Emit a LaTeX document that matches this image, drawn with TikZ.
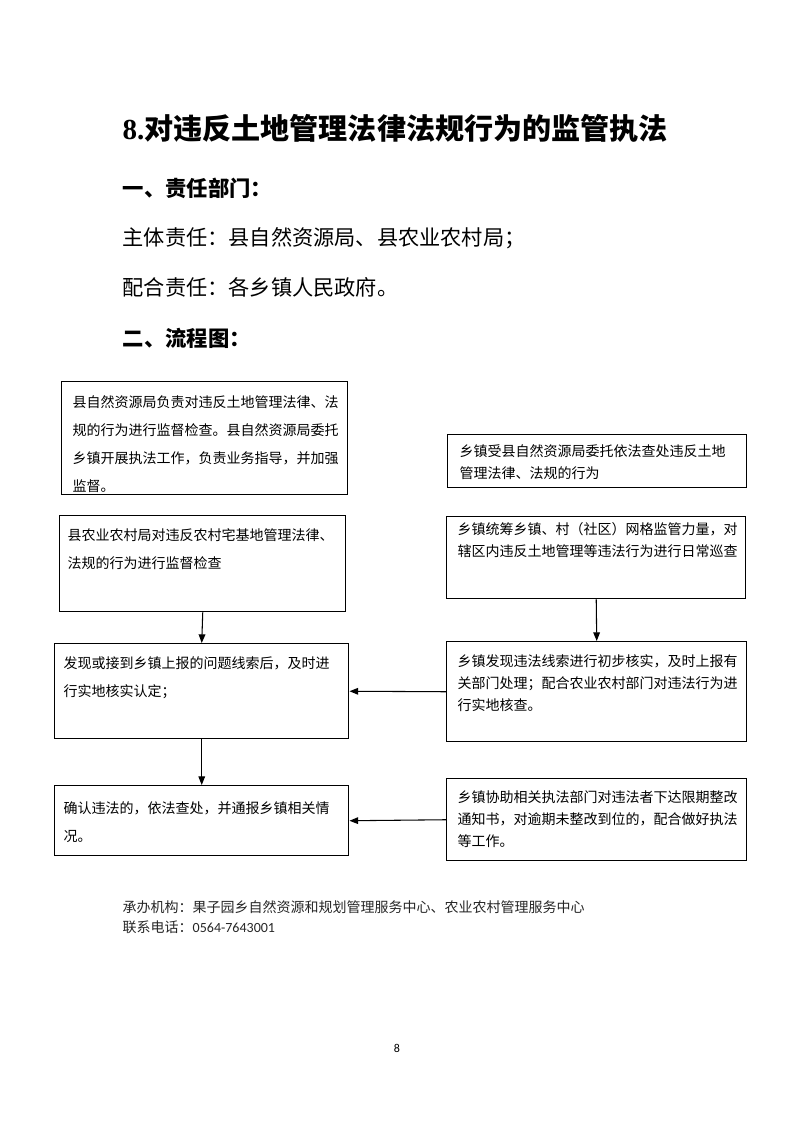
\documentclass[tikz,border=0pt]{standalone}
\usepackage{fontspec}
\setmainfont{Noto Sans CJK SC}
\newfontfamily\latinserif{Liberation Serif}
\newfontfamily\carl{Carlito}
\usetikzlibrary{arrows.meta}
\newdimen\pxu \pxu=0.75pt
% #1 left pad, #2 height, #3 text width, #4 first baseline, #5 text
\newcommand{\bxt}[5]{\hspace*{#1\pxu}\parbox[c][#2\pxu][t]{#3\pxu}{\raggedright\rule{0pt}{#4\pxu}#5}}
\begin{document}
\begin{tikzpicture}[x=0.75pt,y=-0.75pt,
  box/.style={draw, line width=1.1pt, inner sep=0pt, anchor=north west},
  wide/.style={font=\fontsize{10.5pt}{21pt}\selectfont},
  tight/.style={font=\fontsize{10.5pt}{16.5pt}\selectfont},
  arr/.style={-{Triangle[length=6.5pt,width=5pt]}, line width=0.8pt},
  head/.style={anchor=west, font=\fontsize{16pt}{19pt}\selectfont\bfseries},
  body/.style={anchor=west, font=\fontsize{15.9pt}{19pt}\selectfont},
  foot/.style={anchor=west, font=\fontsize{10.5pt}{13pt}\selectfont, text=black!85}]
\useasboundingbox (0,0) rectangle (793,1122);

\node[anchor=west, font=\fontsize{21.8pt}{26pt}\selectfont\bfseries] (title) at (118,128) {{\latinserif 8.}对违反土地管理法律法规行为的监管执法};
\node[head] (h1) at (118,188) {一、责任部门：};
\node[body] (l1) at (118,238) {主体责任：县自然资源局、县农业农村局；};
\node[body] (l2) at (118,287) {配合责任：各乡镇人民政府。};
\node[head] (h2) at (118,338) {二、流程图：};

\node[box, wide] (A) at (61,381) {\bxt{11}{113}{275}{26}{县自然资源局负责对违反土地管理法律、法\\规的行为进行监督检查。县自然资源局委托\\乡镇开展执法工作，负责业务指导，并加强\\监督。}};
\node[box, tight] (B) at (447,434) {\bxt{12}{53}{287}{22}{乡镇受县自然资源局委托依法查处违反土地\\管理法律、法规的行为}};
\node[box, wide] (C) at (59,515) {\bxt{8}{96}{278}{25}{县农业农村局对违反农村宅基地管理法律、\\法规的行为进行监督检查}};
\node[box, tight] (D) at (446,516) {\bxt{11}{82}{288}{18}{乡镇统筹乡镇、村（社区）网格监管力量，对\\辖区内违反土地管理等违法行为进行日常巡查}};
\node[box, wide] (E) at (54,643) {\bxt{9}{95}{285}{25}{发现或接到乡镇上报的问题线索后，及时进\\行实地核实认定；}};
\node[box, tight] (F) at (446,641) {\bxt{11}{100}{289}{25}{乡镇发现违法线索进行初步核实，及时上报有\\关部门处理；配合农业农村部门对违法行为进\\行实地核查。}};
\node[box, wide] (G) at (54,785) {\bxt{9}{70}{285}{28}{确认违法的，依法查处，并通报乡镇相关情\\况。}};
\node[box, tight] (H) at (446,778) {\bxt{11}{82}{289}{24}{乡镇协助相关执法部门对违法者下达限期整改\\通知书，对逾期未整改到位的，配合做好执法\\等工作。}};

\draw[arr] (C.south) -- (E.north);
\draw[arr] (D.south) -- (F.north);
\draw[arr] (F.west) -- (E.east);
\draw[arr] (E.south) -- (G.north);
\draw[arr] (H.west) -- (G.east);

\node[foot] (f1) at (118,907) {承办机构：果子园乡自然资源和规划管理服务中心、农业农村管理服务中心};
\node[foot] (f2) at (118,927) {联系电话：{\carl 0564-7643001}};
\node[font=\carl\fontsize{9pt}{11pt}\selectfont] (pg) at (397,1048) {8};
\end{tikzpicture}
\end{document}
